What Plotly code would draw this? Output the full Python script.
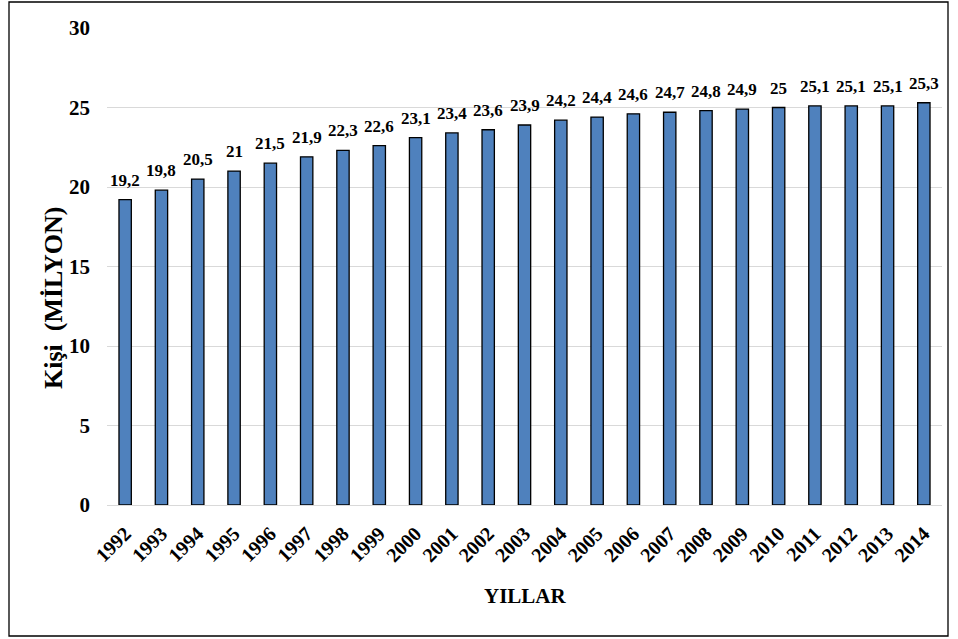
import plotly.graph_objects as go

years = [str(y) for y in range(1992, 2015)]
values = [19.2, 19.8, 20.5, 21.0, 21.5, 21.9, 22.3, 22.6, 23.1, 23.4, 23.6,
          23.9, 24.2, 24.4, 24.6, 24.7, 24.8, 24.9, 25.0, 25.1, 25.1, 25.1, 25.3]
labels = ['19,2', '19,8', '20,5', '21', '21,5', '21,9', '22,3', '22,6', '23,1',
          '23,4', '23,6', '23,9', '24,2', '24,4', '24,6', '24,7', '24,8', '24,9',
          '25', '25,1', '25,1', '25,1', '25,3']
y_ticks = [0, 5, 10, 15, 20, 25, 30]

serif = 'Liberation Serif, Times New Roman, serif'

W, H = 958, 639
L, R, T, B = 107, 16, 28, 134
pw, ph = W - L - R, H - T - B


def px(x):
    return (x - L) / pw


def py(y):
    return (H - B - y) / ph


fig = go.Figure()
fig.add_trace(go.Bar(
    x=years, y=values,
    marker=dict(color='#4f81bd', line=dict(color='black', width=1.3)),
))

# value labels sit a little above each bar (category index on the x axis)
for i, (v, lab) in enumerate(zip(values, labels)):
    fig.add_annotation(x=i, y=v, text=lab, showarrow=False,
                       yanchor='bottom', yshift=8,
                       font=dict(family=serif, size=17, weight='bold'))

fig.update_layout(
    width=W, height=H,
    margin=dict(l=L, r=R, t=T, b=B),
    paper_bgcolor='white', plot_bgcolor='white',
    bargap=0.66, showlegend=False,
    font=dict(family=serif, color='black'),
    xaxis=dict(type='category', tickangle=-45, automargin=False,
               ticklabelstandoff=8,
               tickfont=dict(family=serif, size=20, weight='bold'),
               showline=True, linecolor='#d9d9d9', linewidth=1, ticks=''),
    yaxis=dict(range=[0, 30], tickvals=y_ticks, automargin=False,
               tickfont=dict(family=serif, size=21, weight='bold'),
               showgrid=True, gridcolor='#d9d9d9', gridwidth=1,
               zeroline=False, ticks='', ticklabelstandoff=16),
)

fig.add_annotation(text='<b>Kişi  (MİLYON)</b>', xref='paper', yref='paper',
                   x=px(53), y=py(298), xanchor='center', yanchor='middle',
                   textangle=-90, showarrow=False,
                   font=dict(family=serif, size=26))
fig.add_annotation(text='<b>YILLAR</b>', xref='paper', yref='paper',
                   x=px(525), y=py(596), xanchor='center', yanchor='middle',
                   showarrow=False, font=dict(family=serif, size=21))
fig.add_shape(type='rect', xref='paper', yref='paper',
              x0=px(9), x1=px(948), y0=py(636), y1=py(2),
              line=dict(color='black', width=1.3))

fig.write_html("out.html", config={'displayModeBar': False},
               post_script="document.body.style.margin='0';")
